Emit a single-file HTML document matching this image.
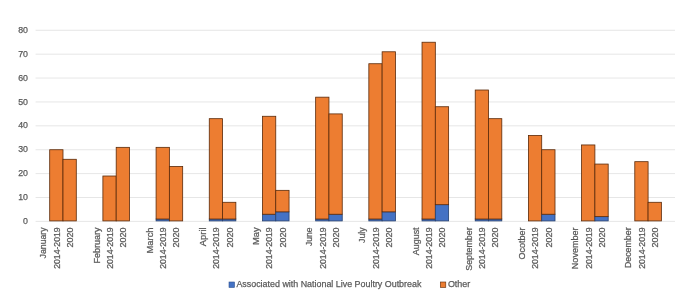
<!DOCTYPE html>
<html><head><meta charset="utf-8"><style>
html,body{margin:0;padding:0;background:#fff;}
svg{display:block;will-change:transform;}
text{font-family:"Liberation Sans", sans-serif;stroke:#595959;stroke-width:0.25px;}
</style></head><body>
<svg width="688" height="297" viewBox="0 0 688 297">
<rect width="688" height="297" fill="#fff"/>
<line x1="35.6" x2="675.0" y1="221.40" y2="221.40" stroke="#e0e0e0" stroke-width="0.8"/>
<text x="28.0" y="224.00" text-anchor="end" font-size="9.4" fill="#595959" textLength="4.9" lengthAdjust="spacingAndGlyphs">0</text>
<line x1="35.6" x2="675.0" y1="197.51" y2="197.51" stroke="#e0e0e0" stroke-width="0.8"/>
<text x="28.0" y="200.11" text-anchor="end" font-size="9.4" fill="#595959" textLength="9.8" lengthAdjust="spacingAndGlyphs">10</text>
<line x1="35.6" x2="675.0" y1="173.62" y2="173.62" stroke="#e0e0e0" stroke-width="0.8"/>
<text x="28.0" y="176.22" text-anchor="end" font-size="9.4" fill="#595959" textLength="9.8" lengthAdjust="spacingAndGlyphs">20</text>
<line x1="35.6" x2="675.0" y1="149.73" y2="149.73" stroke="#e0e0e0" stroke-width="0.8"/>
<text x="28.0" y="152.33" text-anchor="end" font-size="9.4" fill="#595959" textLength="9.8" lengthAdjust="spacingAndGlyphs">30</text>
<line x1="35.6" x2="675.0" y1="125.84" y2="125.84" stroke="#e0e0e0" stroke-width="0.8"/>
<text x="28.0" y="128.44" text-anchor="end" font-size="9.4" fill="#595959" textLength="9.8" lengthAdjust="spacingAndGlyphs">40</text>
<line x1="35.6" x2="675.0" y1="101.95" y2="101.95" stroke="#e0e0e0" stroke-width="0.8"/>
<text x="28.0" y="104.55" text-anchor="end" font-size="9.4" fill="#595959" textLength="9.8" lengthAdjust="spacingAndGlyphs">50</text>
<line x1="35.6" x2="675.0" y1="78.06" y2="78.06" stroke="#e0e0e0" stroke-width="0.8"/>
<text x="28.0" y="80.66" text-anchor="end" font-size="9.4" fill="#595959" textLength="9.8" lengthAdjust="spacingAndGlyphs">60</text>
<line x1="35.6" x2="675.0" y1="54.17" y2="54.17" stroke="#e0e0e0" stroke-width="0.8"/>
<text x="28.0" y="56.77" text-anchor="end" font-size="9.4" fill="#595959" textLength="9.8" lengthAdjust="spacingAndGlyphs">70</text>
<line x1="35.6" x2="675.0" y1="30.28" y2="30.28" stroke="#e0e0e0" stroke-width="0.8"/>
<text x="28.0" y="32.88" text-anchor="end" font-size="9.4" fill="#595959" textLength="9.8" lengthAdjust="spacingAndGlyphs">80</text>
<rect x="49.70" y="149.73" width="13.30" height="71.17" fill="#ED7D31" stroke="#5a2a0a" stroke-width="0.8"/>
<rect x="62.99" y="159.29" width="13.30" height="61.61" fill="#ED7D31" stroke="#5a2a0a" stroke-width="0.8"/>
<rect x="102.89" y="176.01" width="13.30" height="44.89" fill="#ED7D31" stroke="#5a2a0a" stroke-width="0.8"/>
<rect x="116.19" y="147.34" width="13.30" height="73.56" fill="#ED7D31" stroke="#5a2a0a" stroke-width="0.8"/>
<rect x="156.08" y="219.01" width="13.30" height="1.89" fill="#4472C4" stroke="#26406e" stroke-width="0.8"/>
<rect x="156.08" y="147.34" width="13.30" height="71.67" fill="#ED7D31" stroke="#5a2a0a" stroke-width="0.8"/>
<rect x="169.38" y="166.45" width="13.30" height="54.45" fill="#ED7D31" stroke="#5a2a0a" stroke-width="0.8"/>
<rect x="209.27" y="219.01" width="13.30" height="1.89" fill="#4472C4" stroke="#26406e" stroke-width="0.8"/>
<rect x="209.27" y="118.67" width="13.30" height="100.34" fill="#ED7D31" stroke="#5a2a0a" stroke-width="0.8"/>
<rect x="222.56" y="219.01" width="13.30" height="1.89" fill="#4472C4" stroke="#26406e" stroke-width="0.8"/>
<rect x="222.56" y="202.29" width="13.30" height="16.72" fill="#ED7D31" stroke="#5a2a0a" stroke-width="0.8"/>
<rect x="262.46" y="214.23" width="13.30" height="6.67" fill="#4472C4" stroke="#26406e" stroke-width="0.8"/>
<rect x="262.46" y="116.28" width="13.30" height="97.95" fill="#ED7D31" stroke="#5a2a0a" stroke-width="0.8"/>
<rect x="275.75" y="211.84" width="13.30" height="9.06" fill="#4472C4" stroke="#26406e" stroke-width="0.8"/>
<rect x="275.75" y="190.34" width="13.30" height="21.50" fill="#ED7D31" stroke="#5a2a0a" stroke-width="0.8"/>
<rect x="315.65" y="219.01" width="13.30" height="1.89" fill="#4472C4" stroke="#26406e" stroke-width="0.8"/>
<rect x="315.65" y="97.17" width="13.30" height="121.84" fill="#ED7D31" stroke="#5a2a0a" stroke-width="0.8"/>
<rect x="328.94" y="214.23" width="13.30" height="6.67" fill="#4472C4" stroke="#26406e" stroke-width="0.8"/>
<rect x="328.94" y="113.90" width="13.30" height="100.34" fill="#ED7D31" stroke="#5a2a0a" stroke-width="0.8"/>
<rect x="368.84" y="219.01" width="13.30" height="1.89" fill="#4472C4" stroke="#26406e" stroke-width="0.8"/>
<rect x="368.84" y="63.73" width="13.30" height="155.28" fill="#ED7D31" stroke="#5a2a0a" stroke-width="0.8"/>
<rect x="382.13" y="211.84" width="13.30" height="9.06" fill="#4472C4" stroke="#26406e" stroke-width="0.8"/>
<rect x="382.13" y="51.78" width="13.30" height="160.06" fill="#ED7D31" stroke="#5a2a0a" stroke-width="0.8"/>
<rect x="422.03" y="219.01" width="13.30" height="1.89" fill="#4472C4" stroke="#26406e" stroke-width="0.8"/>
<rect x="422.03" y="42.23" width="13.30" height="176.79" fill="#ED7D31" stroke="#5a2a0a" stroke-width="0.8"/>
<rect x="435.32" y="204.68" width="13.30" height="16.22" fill="#4472C4" stroke="#26406e" stroke-width="0.8"/>
<rect x="435.32" y="106.73" width="13.30" height="97.95" fill="#ED7D31" stroke="#5a2a0a" stroke-width="0.8"/>
<rect x="475.22" y="219.01" width="13.30" height="1.89" fill="#4472C4" stroke="#26406e" stroke-width="0.8"/>
<rect x="475.22" y="90.01" width="13.30" height="129.01" fill="#ED7D31" stroke="#5a2a0a" stroke-width="0.8"/>
<rect x="488.51" y="219.01" width="13.30" height="1.89" fill="#4472C4" stroke="#26406e" stroke-width="0.8"/>
<rect x="488.51" y="118.67" width="13.30" height="100.34" fill="#ED7D31" stroke="#5a2a0a" stroke-width="0.8"/>
<rect x="528.41" y="135.40" width="13.30" height="85.50" fill="#ED7D31" stroke="#5a2a0a" stroke-width="0.8"/>
<rect x="541.71" y="214.23" width="13.30" height="6.67" fill="#4472C4" stroke="#26406e" stroke-width="0.8"/>
<rect x="541.71" y="149.73" width="13.30" height="64.50" fill="#ED7D31" stroke="#5a2a0a" stroke-width="0.8"/>
<rect x="581.60" y="144.95" width="13.30" height="75.95" fill="#ED7D31" stroke="#5a2a0a" stroke-width="0.8"/>
<rect x="594.89" y="216.62" width="13.30" height="4.28" fill="#4472C4" stroke="#26406e" stroke-width="0.8"/>
<rect x="594.89" y="164.06" width="13.30" height="52.56" fill="#ED7D31" stroke="#5a2a0a" stroke-width="0.8"/>
<rect x="634.79" y="161.68" width="13.30" height="59.22" fill="#ED7D31" stroke="#5a2a0a" stroke-width="0.8"/>
<rect x="648.08" y="202.29" width="13.30" height="18.61" fill="#ED7D31" stroke="#5a2a0a" stroke-width="0.8"/>
<text transform="translate(46.35,227.4) rotate(-90)" text-anchor="end" font-size="9.4" fill="#595959" textLength="31.0" lengthAdjust="spacingAndGlyphs">January</text>
<text transform="translate(59.65,227.4) rotate(-90)" text-anchor="end" font-size="9.4" fill="#595959" textLength="41.4" lengthAdjust="spacingAndGlyphs">2014-2019</text>
<text transform="translate(72.94,227.4) rotate(-90)" text-anchor="end" font-size="9.4" fill="#595959" textLength="20.0" lengthAdjust="spacingAndGlyphs">2020</text>
<text transform="translate(99.54,227.4) rotate(-90)" text-anchor="end" font-size="9.4" fill="#595959" textLength="36.2" lengthAdjust="spacingAndGlyphs">February</text>
<text transform="translate(112.84,227.4) rotate(-90)" text-anchor="end" font-size="9.4" fill="#595959" textLength="41.4" lengthAdjust="spacingAndGlyphs">2014-2019</text>
<text transform="translate(126.13,227.4) rotate(-90)" text-anchor="end" font-size="9.4" fill="#595959" textLength="20.0" lengthAdjust="spacingAndGlyphs">2020</text>
<text transform="translate(152.73,227.4) rotate(-90)" text-anchor="end" font-size="9.4" fill="#595959" textLength="26.2" lengthAdjust="spacingAndGlyphs">March</text>
<text transform="translate(166.03,227.4) rotate(-90)" text-anchor="end" font-size="9.4" fill="#595959" textLength="41.4" lengthAdjust="spacingAndGlyphs">2014-2019</text>
<text transform="translate(179.32,227.4) rotate(-90)" text-anchor="end" font-size="9.4" fill="#595959" textLength="20.0" lengthAdjust="spacingAndGlyphs">2020</text>
<text transform="translate(205.92,227.4) rotate(-90)" text-anchor="end" font-size="9.4" fill="#595959" textLength="18.8" lengthAdjust="spacingAndGlyphs">April</text>
<text transform="translate(219.22,227.4) rotate(-90)" text-anchor="end" font-size="9.4" fill="#595959" textLength="41.4" lengthAdjust="spacingAndGlyphs">2014-2019</text>
<text transform="translate(232.51,227.4) rotate(-90)" text-anchor="end" font-size="9.4" fill="#595959" textLength="20.0" lengthAdjust="spacingAndGlyphs">2020</text>
<text transform="translate(259.11,227.4) rotate(-90)" text-anchor="end" font-size="9.4" fill="#595959" textLength="17.7" lengthAdjust="spacingAndGlyphs">May</text>
<text transform="translate(272.41,227.4) rotate(-90)" text-anchor="end" font-size="9.4" fill="#595959" textLength="41.4" lengthAdjust="spacingAndGlyphs">2014-2019</text>
<text transform="translate(285.70,227.4) rotate(-90)" text-anchor="end" font-size="9.4" fill="#595959" textLength="20.0" lengthAdjust="spacingAndGlyphs">2020</text>
<text transform="translate(312.30,227.4) rotate(-90)" text-anchor="end" font-size="9.4" fill="#595959" textLength="18.5" lengthAdjust="spacingAndGlyphs">June</text>
<text transform="translate(325.60,227.4) rotate(-90)" text-anchor="end" font-size="9.4" fill="#595959" textLength="41.4" lengthAdjust="spacingAndGlyphs">2014-2019</text>
<text transform="translate(338.89,227.4) rotate(-90)" text-anchor="end" font-size="9.4" fill="#595959" textLength="20.0" lengthAdjust="spacingAndGlyphs">2020</text>
<text transform="translate(365.49,227.4) rotate(-90)" text-anchor="end" font-size="9.4" fill="#595959" textLength="15.6" lengthAdjust="spacingAndGlyphs">July</text>
<text transform="translate(378.79,227.4) rotate(-90)" text-anchor="end" font-size="9.4" fill="#595959" textLength="41.4" lengthAdjust="spacingAndGlyphs">2014-2019</text>
<text transform="translate(392.08,227.4) rotate(-90)" text-anchor="end" font-size="9.4" fill="#595959" textLength="20.0" lengthAdjust="spacingAndGlyphs">2020</text>
<text transform="translate(418.68,227.4) rotate(-90)" text-anchor="end" font-size="9.4" fill="#595959" textLength="27.8" lengthAdjust="spacingAndGlyphs">August</text>
<text transform="translate(431.98,227.4) rotate(-90)" text-anchor="end" font-size="9.4" fill="#595959" textLength="41.4" lengthAdjust="spacingAndGlyphs">2014-2019</text>
<text transform="translate(445.27,227.4) rotate(-90)" text-anchor="end" font-size="9.4" fill="#595959" textLength="20.0" lengthAdjust="spacingAndGlyphs">2020</text>
<text transform="translate(471.87,227.4) rotate(-90)" text-anchor="end" font-size="9.4" fill="#595959" textLength="43.4" lengthAdjust="spacingAndGlyphs">September</text>
<text transform="translate(485.17,227.4) rotate(-90)" text-anchor="end" font-size="9.4" fill="#595959" textLength="41.4" lengthAdjust="spacingAndGlyphs">2014-2019</text>
<text transform="translate(498.46,227.4) rotate(-90)" text-anchor="end" font-size="9.4" fill="#595959" textLength="20.0" lengthAdjust="spacingAndGlyphs">2020</text>
<text transform="translate(525.06,227.4) rotate(-90)" text-anchor="end" font-size="9.4" fill="#595959" textLength="32.1" lengthAdjust="spacingAndGlyphs">Ocotber</text>
<text transform="translate(538.36,227.4) rotate(-90)" text-anchor="end" font-size="9.4" fill="#595959" textLength="41.4" lengthAdjust="spacingAndGlyphs">2014-2019</text>
<text transform="translate(551.65,227.4) rotate(-90)" text-anchor="end" font-size="9.4" fill="#595959" textLength="20.0" lengthAdjust="spacingAndGlyphs">2020</text>
<text transform="translate(578.25,227.4) rotate(-90)" text-anchor="end" font-size="9.4" fill="#595959" textLength="41.8" lengthAdjust="spacingAndGlyphs">November</text>
<text transform="translate(591.55,227.4) rotate(-90)" text-anchor="end" font-size="9.4" fill="#595959" textLength="41.4" lengthAdjust="spacingAndGlyphs">2014-2019</text>
<text transform="translate(604.84,227.4) rotate(-90)" text-anchor="end" font-size="9.4" fill="#595959" textLength="20.0" lengthAdjust="spacingAndGlyphs">2020</text>
<text transform="translate(631.44,227.4) rotate(-90)" text-anchor="end" font-size="9.4" fill="#595959" textLength="40.7" lengthAdjust="spacingAndGlyphs">December</text>
<text transform="translate(644.74,227.4) rotate(-90)" text-anchor="end" font-size="9.4" fill="#595959" textLength="41.4" lengthAdjust="spacingAndGlyphs">2014-2019</text>
<text transform="translate(658.03,227.4) rotate(-90)" text-anchor="end" font-size="9.4" fill="#595959" textLength="20.0" lengthAdjust="spacingAndGlyphs">2020</text>
<rect x="229" y="282" width="5.5" height="5.5" fill="#4472C4" stroke="#2f528f" stroke-width="0.6"/>
<text x="236.4" y="287.2" font-size="9.5" fill="#595959" textLength="185" lengthAdjust="spacingAndGlyphs">Associated with National Live Poultry Outbreak</text>
<rect x="440.3" y="282" width="5.5" height="5.5" fill="#ED7D31" stroke="#5a2a0a" stroke-width="0.6"/>
<text x="447.9" y="287.2" font-size="9.5" fill="#595959" textLength="22.4" lengthAdjust="spacingAndGlyphs">Other</text>
</svg></body></html>
